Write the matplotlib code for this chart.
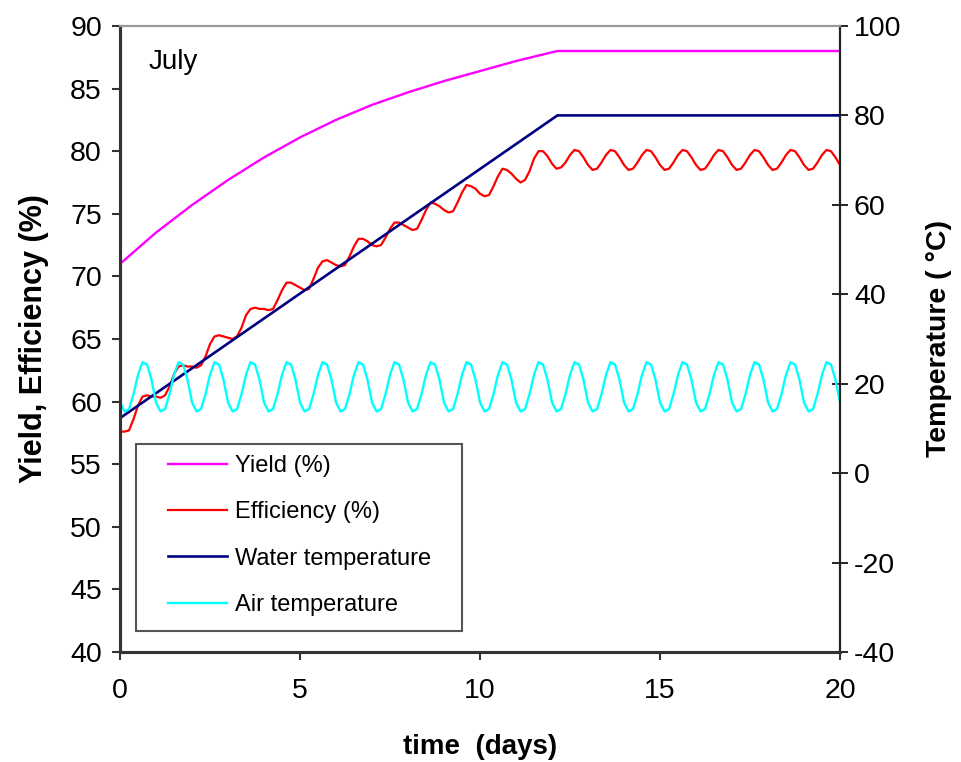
import numpy as np
import matplotlib.pyplot as plt
from matplotlib.patches import Rectangle

plt.rcParams['font.family'] = ['Liberation Sans', 'DejaVu Sans']
plt.rcParams['axes.unicode_minus'] = False

# yield (%), read at whole days
yield_t = [0, 1, 2, 3, 4, 5, 6, 7, 8, 9, 10, 11, 12, 12.15, 20]
yield_pct = [71.0, 73.5, 75.7, 77.7, 79.5, 81.1, 82.5, 83.7, 84.7, 85.6,
             86.4, 87.2, 87.9, 88.0, 88.0]

# water temperature (C)
water_t = [0, 12.15, 20]
water_temp = [12.3, 80.0, 80.0]

# efficiency (%) and air temperature (C), read every 1/8 day
t8 = np.linspace(0, 20, 161)
efficiency = [
    57.6, 57.6, 57.7, 58.6, 59.7, 60.4, 60.5, 60.4,
    60.4, 60.3, 60.5, 61.2, 62.2, 62.8, 62.9, 62.8,
    62.8, 62.7, 62.9, 63.6, 64.6, 65.2, 65.3, 65.2,
    65.1, 65.0, 65.2, 65.9, 66.9, 67.4, 67.5, 67.4,
    67.4, 67.3, 67.4, 68.1, 68.9, 69.5, 69.5, 69.3,
    69.1, 68.9, 69.0, 69.8, 70.7, 71.2, 71.3, 71.1,
    70.9, 70.8, 70.9, 71.6, 72.4, 73.0, 73.0, 72.8,
    72.5, 72.4, 72.5, 73.1, 73.8, 74.3, 74.3, 74.1,
    73.9, 73.7, 73.8, 74.5, 75.3, 75.9, 75.8, 75.6,
    75.3, 75.1, 75.2, 75.9, 76.7, 77.3, 77.2, 77.0,
    76.6, 76.4, 76.5, 77.2, 78.0, 78.6, 78.5, 78.2,
    77.8, 77.5, 77.7, 78.4, 79.4, 80.0, 80.0, 79.6,
    79.0, 78.6, 78.7, 79.1, 79.7, 80.1, 80.0, 79.5,
    78.9, 78.5, 78.6, 79.1, 79.7, 80.1, 80.0, 79.5,
    78.9, 78.5, 78.6, 79.1, 79.7, 80.1, 80.0, 79.5,
    78.9, 78.5, 78.6, 79.1, 79.7, 80.1, 80.0, 79.5,
    78.9, 78.5, 78.6, 79.1, 79.7, 80.1, 80.0, 79.5,
    78.9, 78.5, 78.6, 79.1, 79.7, 80.1, 80.0, 79.5,
    78.9, 78.5, 78.6, 79.1, 79.7, 80.1, 80.0, 79.5,
    78.9, 78.5, 78.6, 79.1, 79.7, 80.1, 80.0, 79.5,
    78.9]
air_temp = [
    15.8, 13.8, 14.3, 17.7, 22.0, 24.8, 24.3, 20.9,
    15.8, 13.8, 14.3, 17.7, 22.0, 24.8, 24.3, 20.9,
    15.8, 13.8, 14.3, 17.7, 22.0, 24.8, 24.3, 20.9,
    15.8, 13.8, 14.3, 17.7, 22.0, 24.8, 24.3, 20.9,
    15.8, 13.8, 14.3, 17.7, 22.0, 24.8, 24.3, 20.9,
    15.8, 13.8, 14.3, 17.7, 22.0, 24.8, 24.3, 20.9,
    15.8, 13.8, 14.3, 17.7, 22.0, 24.8, 24.3, 20.9,
    15.8, 13.8, 14.3, 17.7, 22.0, 24.8, 24.3, 20.9,
    15.8, 13.8, 14.3, 17.7, 22.0, 24.8, 24.3, 20.9,
    15.8, 13.8, 14.3, 17.7, 22.0, 24.8, 24.3, 20.9,
    15.8, 13.8, 14.3, 17.7, 22.0, 24.8, 24.3, 20.9,
    15.8, 13.8, 14.3, 17.7, 22.0, 24.8, 24.3, 20.9,
    15.8, 13.8, 14.3, 17.7, 22.0, 24.8, 24.3, 20.9,
    15.8, 13.8, 14.3, 17.7, 22.0, 24.8, 24.3, 20.9,
    15.8, 13.8, 14.3, 17.7, 22.0, 24.8, 24.3, 20.9,
    15.8, 13.8, 14.3, 17.7, 22.0, 24.8, 24.3, 20.9,
    15.8, 13.8, 14.3, 17.7, 22.0, 24.8, 24.3, 20.9,
    15.8, 13.8, 14.3, 17.7, 22.0, 24.8, 24.3, 20.9,
    15.8, 13.8, 14.3, 17.7, 22.0, 24.8, 24.3, 20.9,
    15.8, 13.8, 14.3, 17.7, 22.0, 24.8, 24.3, 20.9,
    15.8]

fig = plt.figure(figsize=(9.61, 7.62), dpi=100)
ax = fig.add_axes([0.1249, 0.1444, 0.7492, 0.8215])
ax2 = ax.twinx()

l1, = ax.plot(yield_t, yield_pct, color='#ff00ff', lw=1.7, label='Yield (%)')
l2, = ax.plot(t8, efficiency, color='#ff0000', lw=1.6, label='Efficiency (%)')
l3, = ax2.plot(water_t, water_temp, color='#000080', lw=1.9, label='Water temperature')
l4, = ax2.plot(t8, air_temp, color='#00ffff', lw=1.7, label='Air temperature')

ax.set_xlim(0, 20)
ax.set_ylim(40, 90)
ax2.set_ylim(-40, 100)
ax.set_xticks([0, 5, 10, 15, 20])
ax.set_yticks(range(40, 91, 5))
ax2.set_yticks(range(-40, 101, 20))

ax.tick_params(axis='both', direction='out', length=6, width=1.5,
               labelsize=20.5, pad=7, color='#333333')
ax.tick_params(axis='x', pad=13)
ax2.tick_params(axis='y', direction='inout', length=12, width=1.2,
                labelsize=20.5, pad=4)

for a in (ax, ax2):
    a.spines['top'].set_color('#999999')
    a.spines['top'].set_linewidth(1.5)
    a.spines['left'].set_color('#333333')
    a.spines['left'].set_linewidth(2.2)
    a.spines['bottom'].set_color('#333333')
    a.spines['bottom'].set_linewidth(2.2)
    a.spines['right'].set_color('#222222')
    a.spines['right'].set_linewidth(1.5)

ax.set_xlabel('time  (days)', fontsize=20, fontweight='bold', labelpad=21)
ax.set_ylabel('Yield, Efficiency (%)', fontsize=22, fontweight='bold', labelpad=15)
ax2.set_ylabel('Temperature ( °C)', fontsize=20.5, fontweight='bold', labelpad=18)

ax.text(0.039, 0.942, 'July', transform=ax.transAxes, fontsize=20,
        va='center', ha='left')

# legend frame drawn separately, it is wider than the entries need
ax2.add_patch(Rectangle((0.022, 0.034), 0.453, 0.298, transform=ax.transAxes,
                        facecolor='white', edgecolor='#555555', lw=1.5, zorder=5))
leg = ax2.legend(handles=[l1, l2, l3, l4], loc='center left',
                 bbox_to_anchor=(0.066, 0.186), borderaxespad=0, borderpad=0,
                 fontsize=17, frameon=False,
                 handlelength=2.5, handletextpad=0.35, labelspacing=1.03)
leg.set_zorder(6)

fig.savefig('out.png', dpi=100)
